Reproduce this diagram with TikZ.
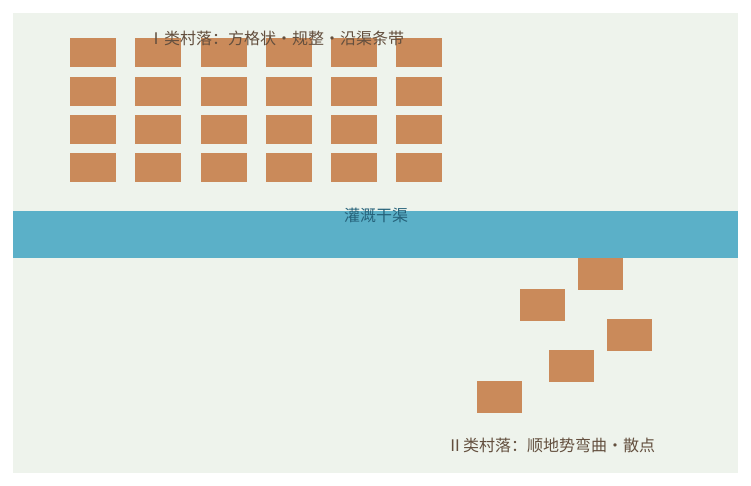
\documentclass[tikz,border=0pt]{standalone}
\usepackage{fontspec}
\setmainfont{Noto Sans CJK SC}
\definecolor{panelbg}{HTML}{EEF3EC}
\definecolor{housecol}{HTML}{CA8A5A}
\definecolor{canalcol}{HTML}{5BB0C8}
\definecolor{labelcol}{HTML}{634F3E}
\definecolor{canaltext}{HTML}{26627A}
\begin{document}
\begin{tikzpicture}[
        x=1pt, y=-1pt,
        house/.style={fill=housecol, inner sep=0pt, minimum width=46pt, minimum height=29pt},
        loosehouse/.style={fill=housecol, inner sep=0pt, minimum width=45pt, minimum height=32pt},
        canal/.style={fill=canalcol, inner sep=0pt, minimum width=725pt, minimum height=47pt},
        caption/.style={text=labelcol, inner sep=0pt, font=\fontsize{16pt}{19pt}\selectfont}
    ]
        % Page and panel
        \useasboundingbox (0,0) rectangle (751,486);
        \fill[panelbg] (13,13) rectangle (738,473);

        % Irrigation canal
        \node[canal] (canal) at (375.5,234.5) {};
        \node[caption, text=canaltext] (canallabel) at (376,215) {灌溉干渠};

        % Type I village: grid, row 1
        \node[house] (g11) at (93,52.5) {};
        \node[house] (g12) at (158,52.5) {};
        \node[house] (g13) at (223.5,52.5) {};
        \node[house] (g14) at (288.5,52.5) {};
        \node[house] (g15) at (354,52.5) {};
        \node[house] (g16) at (419,52.5) {};

        % row 2
        \node[house] (g21) at (93,91.5) {};
        \node[house] (g22) at (158,91.5) {};
        \node[house] (g23) at (223.5,91.5) {};
        \node[house] (g24) at (288.5,91.5) {};
        \node[house] (g25) at (354,91.5) {};
        \node[house] (g26) at (419,91.5) {};

        % row 3
        \node[house] (g31) at (93,129.5) {};
        \node[house] (g32) at (158,129.5) {};
        \node[house] (g33) at (223.5,129.5) {};
        \node[house] (g34) at (288.5,129.5) {};
        \node[house] (g35) at (354,129.5) {};
        \node[house] (g36) at (419,129.5) {};

        % row 4
        \node[house] (g41) at (93,168) {};
        \node[house] (g42) at (158,168) {};
        \node[house] (g43) at (223.5,168) {};
        \node[house] (g44) at (288.5,168) {};
        \node[house] (g45) at (354,168) {};
        \node[house] (g46) at (419,168) {};

        % Type I label
        \node[caption] (gridlabel) at (276,38) {Ⅰ类村落：方格状・规整・沿渠条带};

        % Type II village: scattered along the terrain
        \node[loosehouse] (s1) at (600.5,273.5) {};
        \node[loosehouse] (s2) at (542.5,304.5) {};
        \node[loosehouse] (s3) at (629.5,334.5) {};
        \node[loosehouse] (s4) at (571.5,365.5) {};
        \node[loosehouse] (s5) at (499,396.5) {};

        % Type II label
        \node[caption] (scatterlabel) at (551,445) {Ⅱ类村落：顺地势弯曲・散点};
    \end{tikzpicture}
\end{document}
